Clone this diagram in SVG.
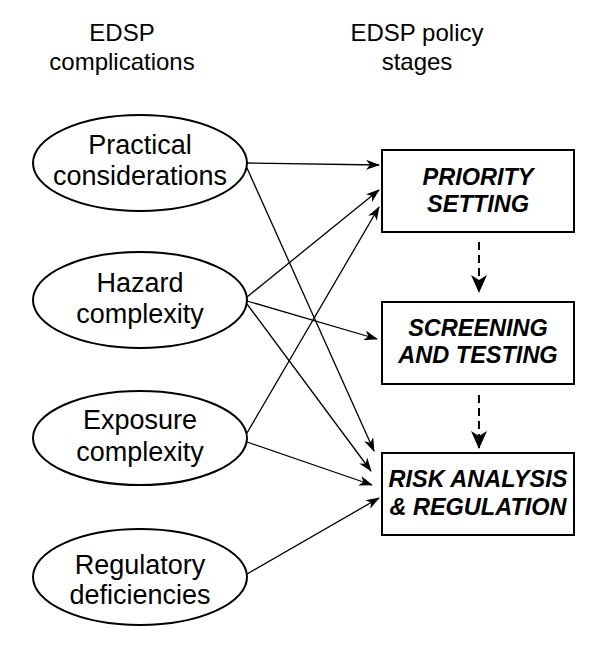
<svg xmlns="http://www.w3.org/2000/svg" width="600" height="652" viewBox="0 0 600 652">
<style>
.hdr{font-family:"Liberation Sans",Arial,sans-serif;font-size:24px;fill:#000;text-anchor:middle}
.el{fill:#fff;stroke:#000;stroke-width:2}
.et{font-family:"Liberation Sans",Arial,sans-serif;font-size:27px;fill:#000;text-anchor:middle}
.bx{fill:#fff;stroke:#000;stroke-width:2}
.bt{font-family:"Liberation Sans",Arial,sans-serif;font-size:23.5px;font-weight:bold;font-style:italic;fill:#000;text-anchor:middle}
.cn{stroke:#000;stroke-width:1.3;fill:none;marker-end:url(#ah)}
.ds{stroke:#000;stroke-width:2;fill:none;stroke-dasharray:8 5;marker-end:url(#ah2)}
</style>
<defs>
<marker id="ah" viewBox="0 0 14 10" refX="13" refY="5" markerWidth="14" markerHeight="10" markerUnits="userSpaceOnUse" orient="auto">
<path d="M0,0 L14,5 L0,10 L4,5 Z" fill="#000"/>
</marker>
<marker id="ah2" viewBox="0 0 18 16" refX="17" refY="8" markerWidth="18" markerHeight="16" markerUnits="userSpaceOnUse" orient="auto">
<path d="M0,0 L18,8 L0,16 L5,8 Z" fill="#000"/>
</marker>
</defs>
<g id="headers">
<text class="hdr" x="122" y="41">EDSP</text>
<text class="hdr" x="122" y="70">complications</text>
<text class="hdr" x="417" y="41">EDSP policy</text>
<text class="hdr" x="417" y="70">stages</text>
</g>
<g id="connectors">
<line class="cn" x1="247" y1="163" x2="379" y2="165"/>
<line class="cn" x1="247" y1="168" x2="374" y2="451"/>
<line class="cn" x1="247" y1="297" x2="379" y2="190"/>
<line class="cn" x1="247" y1="301" x2="377" y2="339"/>
<line class="cn" x1="247" y1="304" x2="371" y2="471"/>
<line class="cn" x1="247" y1="433" x2="379" y2="207"/>
<line class="cn" x1="247" y1="442" x2="372" y2="485"/>
<line class="cn" x1="247" y1="574" x2="379" y2="498"/>
<line class="ds" x1="479" y1="242" x2="479" y2="292"/>
<line class="ds" x1="479" y1="395" x2="479" y2="448"/>
</g>
<g id="n-practical">
<ellipse class="el" cx="140" cy="163" rx="107" ry="48"/>
<text class="et" x="140" y="154">Practical</text>
<text class="et" x="140" y="185">considerations</text>
</g>
<g id="n-hazard">
<ellipse class="el" cx="140" cy="300" rx="107" ry="48"/>
<text class="et" x="140" y="292">Hazard</text>
<text class="et" x="140" y="323">complexity</text>
</g>
<g id="n-exposure">
<ellipse class="el" cx="140" cy="438" rx="107" ry="47"/>
<text class="et" x="140" y="429">Exposure</text>
<text class="et" x="140" y="461">complexity</text>
</g>
<g id="n-regulatory">
<ellipse class="el" cx="140" cy="577" rx="107" ry="48"/>
<text class="et" x="140" y="574">Regulatory</text>
<text class="et" x="140" y="604">deficiencies</text>
</g>
<g id="b-priority">
<rect class="bx" x="382" y="150" width="192" height="82"/>
<text class="bt" x="478" y="185">PRIORITY</text>
<text class="bt" x="478" y="212">SETTING</text>
</g>
<g id="b-screening">
<rect class="bx" x="382" y="302" width="192" height="82"/>
<text class="bt" x="478" y="336">SCREENING</text>
<text class="bt" x="478" y="363">AND TESTING</text>
</g>
<g id="b-risk">
<rect class="bx" x="382" y="453" width="192" height="82"/>
<text class="bt" x="478" y="487">RISK ANALYSIS</text>
<text class="bt" x="478" y="515">&amp; REGULATION</text>
</g>
</svg>
